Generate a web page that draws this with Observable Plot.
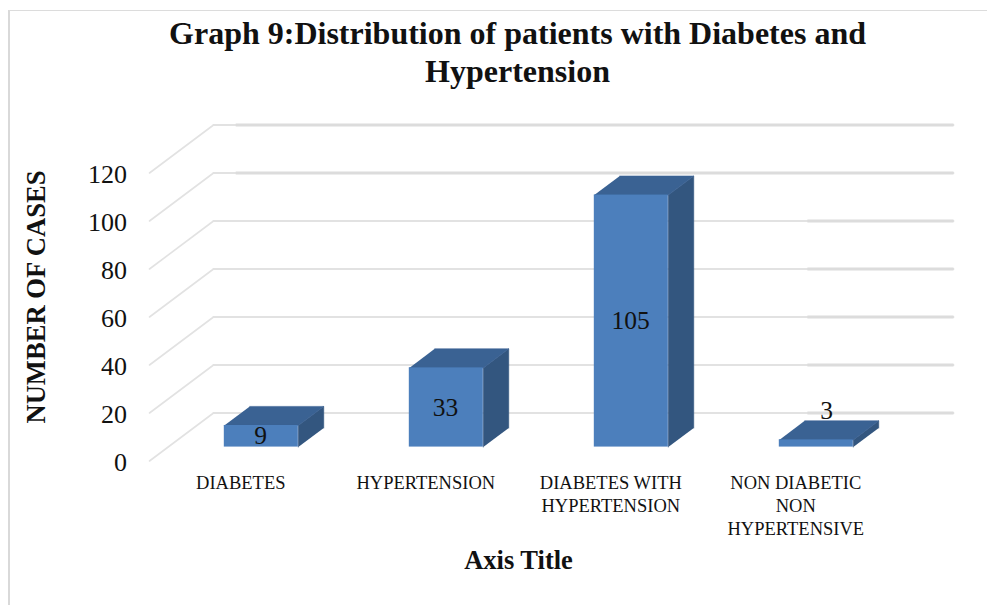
<!DOCTYPE html>
<html>
<head>
<meta charset="utf-8">
<script src="https://cdn.jsdelivr.net/npm/d3@7"></script>
<script src="https://cdn.jsdelivr.net/npm/@observablehq/plot@0.6"></script>
<style>
  html, body { margin: 0; padding: 0; background: #fff; }
  #chart { position: relative; width: 987px; height: 605px; overflow: hidden; }
  #chart svg { position: absolute; left: 0; top: 0; }
  #edge { position: absolute; left: 8px; top: 10px; right: -4px; bottom: -4px;
          border-left: 2px solid #d9d9d9; border-top: 1.5px solid #dcdcdc; }
</style>
</head>
<body>
<div id="chart"><div id="edge"></div></div>
<script>
const categories = ["DIABETES", "HYPERTENSION", "DIABETES WITH\nHYPERTENSION", "NON DIABETIC\nNON\nHYPERTENSIVE"];
const cases = [9, 33, 105, 3];
const yTicks = [0, 20, 40, 60, 80, 100, 120];

// Oblique projection: one unit of depth moves a point this far along each data axis.
const depthX = 0.346;
const depthY = 20;
const barWidth = 0.4;
const barFront = 0.29;
const barBack = 0.6875;

const project = (slot, value, depth) => ({x: slot + depth * depthX, y: value + depth * depthY});

const bars = categories.map((name, i) => ({name, value: cases[i], left: i + 0.304, right: i + 0.304 + barWidth}));

const face = (corners) => bars.flatMap((b) =>
  corners(b).map(([s, v, d]) => ({bar: b.name, ...project(s, v, d)}))
);
const sideFaces = face((b) => [[b.right, 0, barFront], [b.right, b.value, barFront], [b.right, b.value, barBack], [b.right, 0, barBack]]);
const topFaces = face((b) => [[b.left, b.value, barFront], [b.right, b.value, barFront], [b.right, b.value, barBack], [b.left, b.value, barBack]]);

const fronts = bars.map((b) => {
  const a = project(b.left, 0, barFront);
  const c = project(b.right, b.value, barFront);
  return {x1: a.x, x2: c.x, y1: a.y, y2: c.y};
});

// Gridlines: a slanted run on the side wall, then a long run across the back wall.
const wallRun = (t, from, to) => [
  {tick: t, ...project(from, t, 1)},
  {tick: t, ...project(to, t, 1)}
];
const sideWall = yTicks.flatMap((t) => [
  {tick: t, ...project(0, t, 0)},
  {tick: t, ...project(0, t, 1)}
]);
const backWall = yTicks.flatMap((t) => wallRun(t, 0, categories.length));
// The back-wall lines are heavier along part of their length.
const heavyRuns = yTicks.flatMap((t) => wallRun(t, t >= 100 ? 0.12 : 3.21, categories.length));

const valueLabels = bars.map((b, i) => {
  const p = project(i + 0.5, b.value / 2, barFront);
  return {...p, text: String(b.value), small: b.value < 5};
});
const categoryLabels = categories.map((name, i) => ({x: i + 0.5, text: name}));

const serif = "'Liberation Serif', 'Times New Roman', serif";

const plot = Plot.plot({
  width: 987,
  height: 605,
  marginLeft: 149,
  marginRight: 98,
  marginTop: 172.5,
  marginBottom: 144.5,
  style: {fontFamily: serif, background: "transparent", overflow: "visible"},
  x: {domain: [0, categories.length], axis: null},
  y: {domain: [0, 120], axis: null},
  marks: [
    Plot.line(sideWall, {x: "x", y: "y", z: "tick", stroke: "#e2e2e2", strokeWidth: 1.6}),
    Plot.line(backWall, {x: "x", y: "y", z: "tick", stroke: "#e2e2e2", strokeWidth: 1.8}),
    Plot.line(heavyRuns, {x: "x", y: "y", z: "tick", stroke: "#dcdcdc", strokeWidth: (d) => 3, strokeLinecap: "butt"}),
    Plot.line(sideFaces, {x: "x", y: "y", z: "bar", fill: "#33567f", stroke: "#33567f", strokeWidth: 0.6}),
    Plot.line(topFaces, {x: "x", y: "y", z: "bar", fill: "#3a6293", stroke: "#3a6293", strokeWidth: 0.6}),
    Plot.rect(fronts, {x1: "x1", x2: "x2", y1: "y1", y2: "y2", fill: "#4c7fbc"}),
    Plot.axisY(yTicks, {tickSize: 0, tickPadding: 22.5, label: null, fontSize: 26, fill: "#111", dy: 2}),
    Plot.text(valueLabels, {
      x: "x", y: "y", text: "text", fontSize: 25.5, fill: "#111",
      filter: (d) => !d.small
    }),
    Plot.text(valueLabels, {
      x: "x", y: "y", text: "text", fontSize: 25.5, fill: "#111",
      dx: 11, dy: -33,
      filter: (d) => d.small
    }),
    Plot.text(categoryLabels, {
      x: "x", y: () => 0, text: "text", fontSize: 18.5, fill: "#111",
      dx: -1.2, dy: 12, lineAnchor: "top", lineHeight: 1.23
    }),
    Plot.text(["Graph 9:Distribution of patients with Diabetes and\nHypertension"], {
      frameAnchor: "top", dx: -2, dy: -156.5, lineAnchor: "top",
      fontSize: 32, fontWeight: "bold", lineHeight: 1.2, fill: "#111"
    }),
    Plot.text(["Axis Title"], {
      frameAnchor: "bottom", dx: -1, dy: 108, fontSize: 26.5, fontWeight: "bold", fill: "#111"
    }),
    Plot.text(["NUMBER OF CASES"], {
      frameAnchor: "left", textAnchor: "middle", dx: -113.5, dy: -20, rotate: -90,
      fontSize: 26.6, fontWeight: "bold", fill: "#111"
    })
  ]
});
document.getElementById("chart").appendChild(plot);
</script>
</body>
</html>
